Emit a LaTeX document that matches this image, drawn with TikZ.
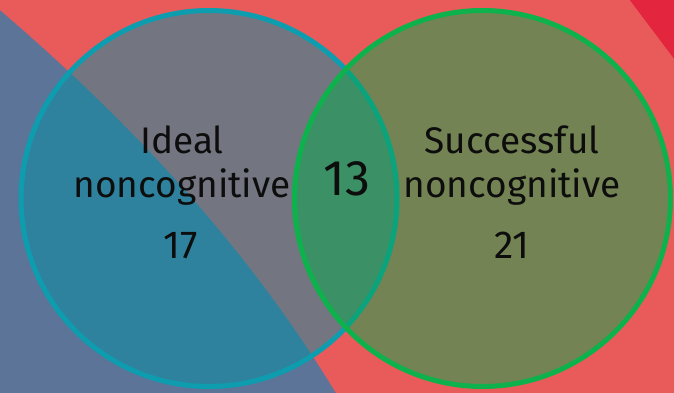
\documentclass[tikz,border=0pt]{standalone}
\usepackage{fontspec}
\setmainfont{Fira Sans}

\definecolor{bgred}{RGB}{233,91,91}
\definecolor{cornerred}{RGB}{227,37,61}
\definecolor{slateblue}{RGB}{91,116,152}
\definecolor{idealteal}{RGB}{13,157,175}
\definecolor{idealfill}{RGB}{8,144,163}
\definecolor{succgreen}{RGB}{13,178,76}
\definecolor{succfill}{RGB}{8,169,77}

\tikzset{
    setfill/.style={fill opacity=0.52},
    setline/.style={line width=5pt},
    setlabel/.style={anchor=base, align=center, text=black!95, inner sep=0pt,
                     font=\fontsize{37}{44}\selectfont},
}

\begin{document}
\begin{tikzpicture}[x=1pt, y=-1pt]
            \useasboundingbox (0,0) rectangle (674,393);
            \clip (0,0) rectangle (674,393);

            \coordinate (idealc) at (209,198.5);
            \coordinate (succc) at (482.5,198.5);

            % background
            \fill[bgred] (-5,-5) rectangle (680,400);
            \fill[cornerred] (626,-5) -- (684,72) -- (684,-5) -- cycle;
            \fill[slateblue] (-5,6) .. controls (129,120) and (249,248) .. (340,400) -- (-5,400) -- cycle;

            % the two sets
            \fill[idealfill, setfill] (idealc) circle (188);
            \draw[idealteal, setline] (idealc) circle (188);
            \fill[succfill, setfill] (succc) circle (188);
            \draw[succgreen, setline] (succc) circle (188);

            % base anchor sits on the last line
            \node[setlabel] (ideallab) at (182,197) {Ideal\\noncognitive};
            \node[setlabel, font=\fontsize{39}{44}\selectfont] (idealnum) at (181,258) {17};
            \node[setlabel] (succlab) at (512,197) {Successful\\noncognitive};
            \node[setlabel, font=\fontsize{39}{44}\selectfont] (succnum) at (512,258) {21};
            \node[setlabel, font=\fontsize{50}{54}\selectfont] (bothnum) at (347,195) {13};

        \end{tikzpicture}
\end{document}
